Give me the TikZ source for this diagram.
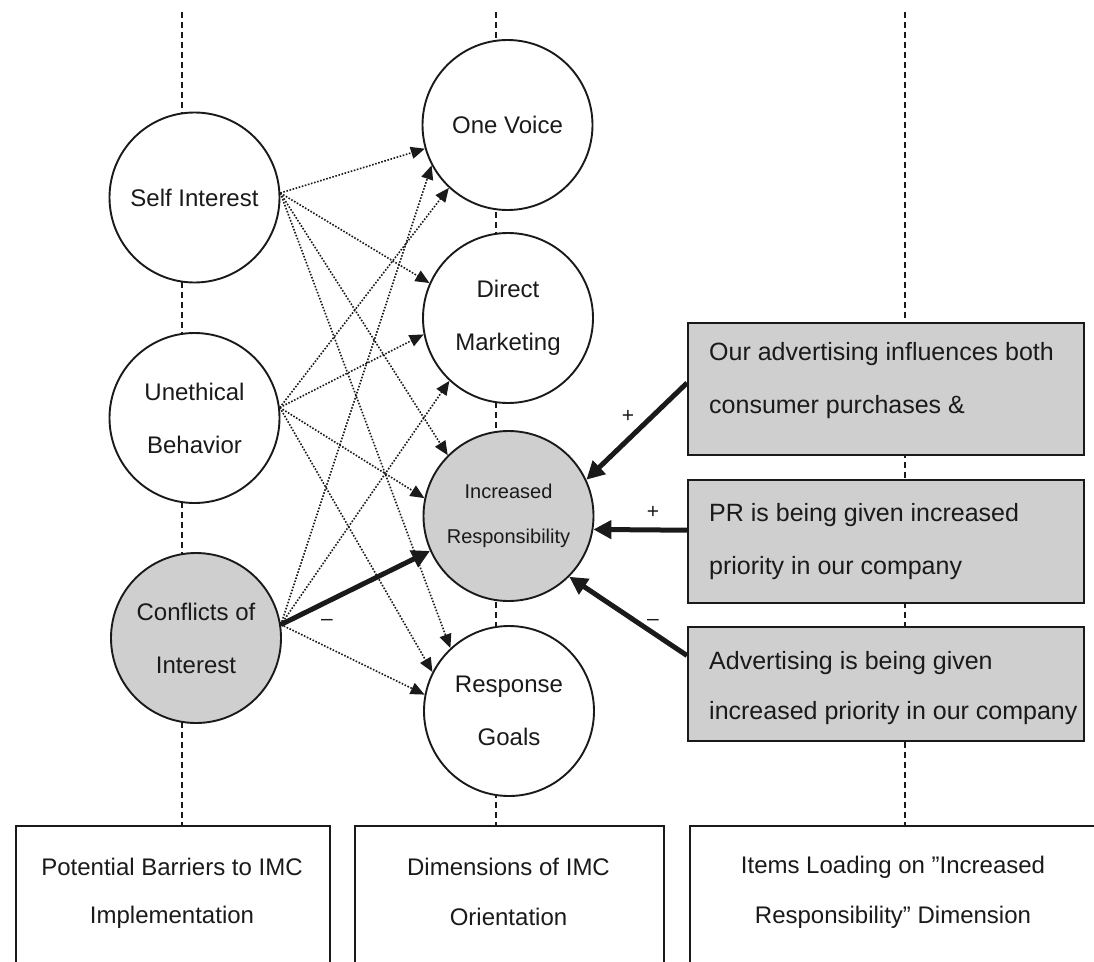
\documentclass[tikz,border=0pt]{standalone}
\usepackage{fontspec}
\setmainfont{Liberation Sans}
\usetikzlibrary{arrows.meta,calc}
\definecolor{ink}{HTML}{1A1A1A}
\definecolor{shade}{HTML}{CFCFCF}
\begin{document}
\begin{tikzpicture}[x=1pt,y=-1pt,
  circ/.style={circle, draw=ink, line width=1.9pt, minimum size=170pt, inner sep=0pt,
    fill=white, align=center, text=ink, font=\fontsize{24}{53}\selectfont},
  hot/.style={circ, fill=shade},
  guide/.style={draw=ink, line width=1.8pt, dash pattern=on 6pt off 4pt},
  weak/.style={draw=ink, line width=1.6pt, dash pattern=on 1.6pt off 1.6pt,
    -{Triangle[length=14pt,width=12pt]}},
  strong/.style={draw=ink, line width=5pt, -{Triangle[length=18pt,width=18pt]}},
  rbox/.style={draw=ink, fill=shade, line width=1.9pt, anchor=north west, inner sep=0pt},
  rtext/.style={anchor=west, text=ink, inner sep=0pt, font=\fontsize{25}{30}\selectfont},
  pane/.style={draw=ink, line width=1.7pt, anchor=north west, inner sep=0pt},
  btext/.style={text=ink, inner sep=0pt, font=\fontsize{24}{30}\selectfont},
  sign/.style={text=ink, inner sep=0pt, font=\fontsize{21}{22}\selectfont}]
\useasboundingbox (0,0) rectangle (1094,961);
\clip (0,0) rectangle (1094,961);

% vertical guide lines of the three columns
\coordinate (g1t) at (182,12);  \coordinate (g1b) at (182,825);
\coordinate (g2t) at (496,12);  \coordinate (g2b) at (496,825);
\coordinate (g3t) at (905,12);  \coordinate (g3b) at (905,825);
\draw[guide] (g1t) -- (g1b);
\draw[guide] (g2t) -- (g2b);
\draw[guide] (g3t) -- (g3b);

% barriers
\node[circ] (si) at (194.5,197.5) {Self Interest};
\node[circ] (ue) at (194.5,418) {Unethical\\Behavior};
\node[hot]  (ci) at (196,638) {Conflicts of\\Interest};

% dimensions
\node[circ] (ov) at (507.5,125) {One Voice};
\node[circ] (dm) at (508,318) {Direct\\Marketing};
\node[hot, font=\fontsize{20}{45}\selectfont] (ir) at (508.5,516) {Increased\\Responsibility};
\node[circ] (rg) at (509,711) {Response\\Goals};

% items
\node[rbox, minimum width=396pt, minimum height=132pt] (b1) at (687,322) {};
\node[rbox, minimum width=396pt, minimum height=123pt] (b2) at (687,479) {};
\node[rbox, minimum width=396pt, minimum height=114pt] (b3) at (687,626) {};
\node[rtext] (t1a) at (709,354) {Our advertising influences both};
\node[rtext] (t1b) at (709,407) {consumer purchases \&};
\node[rtext] (t2a) at (709,515) {PR is being given increased};
\node[rtext] (t2b) at (709,568) {priority in our company};
\node[rtext] (t3a) at (709,663) {Advertising is being given};
\node[rtext] (t3b) at (709,713) {increased priority in our company};

% column captions
\node[pane, minimum width=314pt, minimum height=160pt] (pa) at (15,825) {};
\node[pane, minimum width=309pt, minimum height=160pt] (pb) at (354,825) {};
\node[pane, minimum width=420pt, minimum height=160pt] (pc) at (689,825) {};
\node[btext] (pa1) at (172,867) {Potential Barriers to IMC};
\node[btext] (pa2) at (172,917) {Implementation};
\node[btext] (pb1) at (508.5,867) {Dimensions of IMC};
\node[btext] (pb2) at (508.5,917) {Orientation};
\node[btext] (pc1) at (893,867) {Items Loading on "Increased};
\node[btext] (pc2) at (893,917) {Responsibility" Dimension};

% barrier -> dimension links
\draw[weak] (si.3) -- (ov.196);
\draw[weak] (si.3) -- (dm.156);
\draw[weak] (si.3) -- (ir.135);
\draw[weak] (si.3) -- (rg.133);
\draw[weak] (ue.7) -- (ov.227);
\draw[weak] (ue.7) -- (dm.191);
\draw[weak] (ue.7) -- (ir.168);
\draw[weak] (ue.7) -- (rg.153);
\draw[weak] (ci.9) -- (ov.208);
\draw[weak] (ci.9) -- (dm.227);
\draw[weak] (ci.9) -- (rg.169);
\draw[strong] (ci.9) -- (ir.204);

% item loadings
\draw[strong] ($(b1.north west)!0.455!(b1.south west)$) -- (ir.25);
\draw[strong] ($(b2.north west)!0.41!(b2.south west)$) -- (ir.-9);
\draw[strong] ($(b3.north west)!0.255!(b3.south west)$) -- (ir.-45);

% signs
\node[sign] (s1) at (628,416) {+};
\node[sign] (s2) at (653,512) {+};
\node[sign] (s3) at (653,622) {–};
\node[sign] (s4) at (327,622) {–};
\end{tikzpicture}
\end{document}
